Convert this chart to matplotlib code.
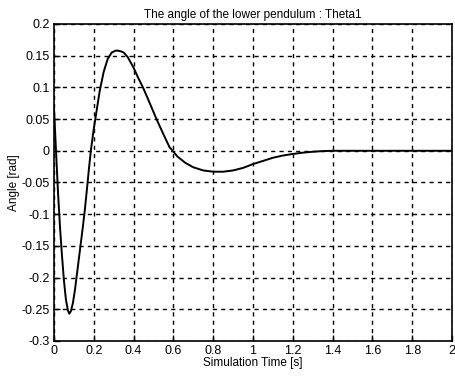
import matplotlib
matplotlib.use("Agg")
import matplotlib.pyplot as plt

# values
time_s = [0.0, 0.01, 0.02, 0.03, 0.04, 0.05, 0.06, 0.07, 0.077, 0.085,
          0.095, 0.105, 0.115, 0.125, 0.135, 0.145, 0.155, 0.165, 0.175, 0.185,
          0.2, 0.215, 0.23, 0.25, 0.27, 0.29, 0.31, 0.32, 0.335, 0.35,
          0.37, 0.4, 0.42, 0.447, 0.48, 0.515, 0.55, 0.58, 0.62, 0.66, 0.7,
          0.75, 0.8, 0.85, 0.9, 0.95, 1.0, 1.05, 1.1, 1.15, 1.2,
          1.25, 1.3, 1.35, 1.4, 2.0]
theta1 = [0.067, 0.0, -0.065, -0.12, -0.165, -0.205, -0.235, -0.252, -0.257, -0.253,
          -0.24, -0.22, -0.195, -0.17, -0.145, -0.12, -0.093, -0.062, -0.03, 0.0,
          0.035, 0.065, 0.095, 0.125, 0.145, 0.155, 0.158, 0.158, 0.157, 0.155,
          0.148, 0.131, 0.117, 0.1, 0.076, 0.05, 0.026, 0.006, -0.009, -0.019, -0.026,
          -0.031, -0.033, -0.033, -0.031, -0.027, -0.021, -0.016, -0.011, -0.0075, -0.005,
          -0.003, -0.0015, -0.0005, 0.0, 0.0]

xticks = [0, 0.2, 0.4, 0.6, 0.8, 1, 1.2, 1.4, 1.6, 1.8, 2]
yticks = [-0.3, -0.25, -0.2, -0.15, -0.1, -0.05, 0, 0.05, 0.1, 0.15, 0.2]
xlabels = ["0", "0.2", "0.4", "0.6", "0.8", "1", "1.2", "1.4", "1.6", "1.8", "2"]
ylabels = ["-0.3", "-0.25", "-0.2", "-0.15", "-0.1", "-0.05", "0", "0.05", "0.1", "0.15", "0.2"]

plt.rcParams['font.family'] = ['Liberation Sans', 'DejaVu Sans']

fig = plt.figure(figsize=(4.55, 3.79), dpi=100)
ax = fig.add_axes([0.1187, 0.1003, 0.8747, 0.8364])

ax.plot(time_s, theta1, color='black', linewidth=1.4)

ax.set_xlim(0, 2)
ax.set_ylim(-0.3, 0.2)
ax.set_xticks(xticks)
ax.set_xticklabels(xlabels)
ax.set_yticks(yticks)
ax.set_yticklabels(ylabels)
ax.tick_params(direction='in', length=4, width=1, labelsize=9, colors='black', pad=3)
ax.grid(True, color='black', linestyle=(0, (3, 3)), linewidth=1)

for sp in ax.spines.values():
    sp.set_linewidth(1.2)

ax.set_title("The angle of the lower pendulum : Theta1", fontsize=8.5, pad=4)
ax.set_xlabel("Simulation Time [s]", fontsize=8.5, labelpad=0)
ax.set_ylabel("Angle [rad]", fontsize=8.5, labelpad=1)

fig.savefig("out.png", dpi=100)
